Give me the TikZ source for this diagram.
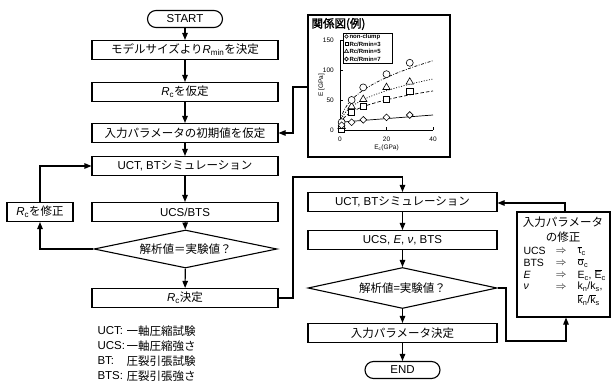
\documentclass[tikz,border=0pt]{standalone}
\usepackage{fontspec}
\setmainfont{Liberation Sans}
\newfontfamily\jp[AutoFakeBold=2]{Noto Sans CJK JP}
\usetikzlibrary{arrows.meta,shapes.geometric}
\newcommand\myRc{\textit{R}\textsubscript{c}}
\newcommand\myRmin{\textit{R}\textsubscript{min}}
\newcommand\obar[1]{$\overline{\mbox{#1}}$}
\begin{document}
\begin{tikzpicture}[x=1pt,y=-1pt,font=\fontsize{11.5}{13}\selectfont,line width=1.1pt,
  box/.style={draw,line width=1.1pt,minimum width=186pt,minimum height=19pt,inner sep=1pt},
  rbox/.style={box,minimum width=189pt},
  term/.style={draw,line width=1.1pt,rounded corners=8.5pt,minimum width=75pt,minimum height=17pt,inner sep=1pt},
  dec/.style={draw,diamond,aspect=4.8,line width=1.1pt,inner sep=0pt,minimum width=183pt,minimum height=38pt},
  arr/.style={-{Triangle[length=7pt,width=5.5pt]},line width=1.1pt},
  mkbase/.style={draw,fill=white,line width=0.6pt,inner sep=0pt},
  mkc/.style={mkbase,circle,minimum size=7pt},
  mks/.style={mkbase,rectangle,minimum size=6.2pt},
  mkt/.style={mkbase,regular polygon,regular polygon sides=3,minimum size=8.5pt},
  mkd/.style={mkbase,diamond,minimum size=7pt},
  tick/.style={font=\fontsize{6.5}{7}\selectfont,inner sep=1pt},
  leg/.style={font=\fontsize{6}{6}\selectfont\bfseries,inner sep=0pt,anchor=west},
  mrow/.style={font=\fontsize{10.5}{12}\selectfont,inner sep=0pt}]
\useasboundingbox (0,0) rectangle (611,385);

% left column
\node[term] (start) at (185,19) {START};
\node[box] (b1) at (185,50) {{\jp モデルサイズより}\myRmin{\jp を決定}};
\node[box] (b2) at (185,92) {\myRc{\jp を仮定}};
\node[box] (b3) at (185,133) {{\jp 入力パラメータの初期値を仮定}};
\node[box] (b4) at (185,166) {UCT, BT{\jp シミュレーション}};
\node[box] (b5) at (185,212) {UCS/BTS};
\node[dec] (d1) at (185.5,249) {{\jp 解析値＝実験値？}};
\node[box] (b6) at (185,298) {\myRc{\jp 決定}};
\node[box,minimum width=66pt] (fix) at (40,212) {\myRc{\jp を修正}};

\draw[arr] (start) -- (b1);
\draw[arr] (b1) -- (b2);
\draw[arr] (b2) -- (b3);
\draw[arr] (b3) -- (b4);
\draw[arr] (b4) -- (b5);
\draw[arr] (b5) -- (d1);
\draw[arr] (d1) -- (b6);
\draw[arr] (d1.west) -| (fix.south);
\draw[arr] (fix.north) |- (b4.west);

% legend of abbreviations
\node[anchor=west,inner sep=0pt] (l1a) at (97,331) {UCT:};
\node[anchor=west,inner sep=0pt] (l1b) at (126,331) {\jp 一軸圧縮試験};
\node[anchor=west,inner sep=0pt] (l2a) at (97,346) {UCS:};
\node[anchor=west,inner sep=0pt] (l2b) at (126,346) {\jp 一軸圧縮強さ};
\node[anchor=west,inner sep=0pt] (l3a) at (97,361) {BT:};
\node[anchor=west,inner sep=0pt] (l3b) at (126,361) {\jp 圧裂引張試験};
\node[anchor=west,inner sep=0pt] (l4a) at (97,376) {BTS:};
\node[anchor=west,inner sep=0pt] (l4b) at (126,376) {\jp 圧裂引張強さ};

% right column
\node[rbox] (r1) at (402.5,202) {UCT, BT{\jp シミュレーション}};
\node[rbox] (r2) at (402.5,240) {UCS, \textit{E}, \textit{ν}, BTS};
\node[dec,aspect=4.6,minimum width=189pt,minimum height=41pt] (d2) at (402.5,288) {{\jp 解析値=実験値？}};
\node[rbox] (r3) at (402.5,333) {{\jp 入力パラメータ決定}};
\node[term] (end) at (402.5,370) {END};

\draw[arr] (r1) -- (r2);
\draw[arr] (r2) -- (d2);
\draw[arr] (d2) -- (r3);
\draw[arr] (r3) -- (end);

\coordinate (c1) at (293,177);
\draw[arr] (b6.east) -| (c1) -| (r1.north);

% modification box
\node[draw,line width=1.1pt,minimum width=93pt,minimum height=105pt,inner sep=0pt] (mod) at (563.5,264.5) {};
\node[inner sep=0pt] (mt1) at (563,222) {\jp 入力パラメータ};
\node[inner sep=0pt] (mt2) at (563,237) {\jp の修正};
\node[mrow,anchor=west] (ma1) at (523,251) {UCS};
\node[mrow,anchor=west] (ma2) at (523,263) {BTS};
\node[mrow,anchor=west] (ma3) at (523,275) {\textit{E}};
\node[mrow,anchor=west] (ma4) at (523,287) {\textit{ν}};
\node[mrow] (mb1) at (561,251) {$\Rightarrow$};
\node[mrow] (mb2) at (561,263) {$\Rightarrow$};
\node[mrow] (mb3) at (561,275) {$\Rightarrow$};
\node[mrow] (mb4) at (561,287) {$\Rightarrow$};
\node[mrow,anchor=west] (mc1) at (577,251) {\obar{τ}\textsubscript{c}};
\node[mrow,anchor=west] (mc2) at (577,263) {\obar{σ}\textsubscript{c}};
\node[mrow,anchor=west] (mc3) at (577,275) {E\textsubscript{c}, \obar{E}\textsubscript{c}};
\node[mrow,anchor=west] (mc4) at (577,287) {k\textsubscript{n}/k\textsubscript{s},};
\node[mrow,anchor=west] (mc5) at (577,300) {\obar{k}\textsubscript{n}/\obar{k}\textsubscript{s}};

\coordinate (c2) at (506,341);
\coordinate (c3) at (566,341);
\draw[arr] (d2.east) -| (c2) -- (c3) -- (c3 |- mod.south);
\coordinate (c4) at (565,203);
\draw[arr] (c4 |- mod.north) -- (c4) -- (c4 -| r1.east);

% graph
\node[draw,line width=1.1pt,minimum width=142pt,minimum height=142pt,inner sep=0pt] (graph) at (379,86) {};
\node[anchor=west,inner sep=0pt,font=\fontsize{11.5}{13}\selectfont\bfseries] (gt) at (311,24) {\jp 関係図(例)};
\coordinate (c5) at (293,87);
\draw[arr] (graph.west |- c5) -- (c5) |- (b3.east);

\begin{scope}[shift={(340,130)},x=2.325pt,y=0.6pt]
  \draw[line width=0.8pt] (0,150) -- (0,0) -- (40,0);
  \foreach \Y in {50,100,150} \draw[line width=0.6pt] (0,\Y) -- ++(1.4,0);
  \foreach \X in {20,40} \draw[line width=0.6pt] (\X,0) -- ++(0,5);
  \foreach \Y [count=\i] in {0,50,100,150} \node[tick,anchor=east] (yl\i) at (-2,\Y) {\Y};
  \foreach \X [count=\i] in {0,20,40} \node[tick] (xl\i) at (\X,-16) {\X};
  \node[tick] (xt) at (20,-30) {E\textsubscript{c}(GPa)};
  \node[tick,rotate=90] (yt) at (-8,75) {E [GPa]};
  % curves
  \draw[line width=0.7pt] plot[domain=0:40,samples=20] (\x,{13+0.3*\x});
  \draw[line width=0.7pt,dash pattern=on 3.5pt off 2pt] plot[domain=0.3:40,samples=60] (\x,{16.5*\x^0.372});
  \draw[line width=0.7pt,dash pattern=on 1pt off 1.6pt] plot[domain=0.3:40,samples=60] (\x,{21.3*\x^0.375});
  \draw[line width=0.7pt,dash pattern=on 3pt off 1.5pt on 0.8pt off 1.5pt] plot[domain=0.3:40,samples=60] (\x,{26.4*\x^0.4});
  % markers
  \foreach \X/\Y [count=\i] in {0.7/2,5/30,10/39,20/51,30/65} \node[mks] (ps\i) at (\X,\Y) {};
  \foreach \X/\Y [count=\i] in {0.7/6,5/39,10/51,20/71,30/80} \node[mkt] (pt\i) at (\X,\Y) {};
  \foreach \X/\Y [count=\i] in {0.7/13,5/50,10/71,20/93,30/112} \node[mkc] (pc\i) at (\X,\Y) {};
  \foreach \X/\Y [count=\i] in {0.7/8,5/13,10/17,20/21,30/25} \node[mkd] (pd\i) at (\X,\Y) {};
\end{scope}

% graph legend
\node[draw,line width=0.6pt,minimum width=49pt,minimum height=30pt,inner sep=0pt] (glegend) at (367.5,48) {};
\node[mkbase,diamond,minimum size=3.8pt] (gk1) at (346.5,36.5) {};
\node[mkbase,rectangle,minimum size=3.4pt] (gk2) at (346.5,44) {};
\node[mkbase,regular polygon,regular polygon sides=3,minimum size=4.6pt] (gk3) at (346.5,51.5) {};
\node[mkbase,circle,minimum size=3.8pt] (gk4) at (346.5,59) {};
\node[leg] (gl1) at (349,36.5) {non-clump};
\node[leg] (gl2) at (349,44) {Rc/Rmin=3};
\node[leg] (gl3) at (349,51.5) {Rc/Rmin=5};
\node[leg] (gl4) at (349,59) {Rc/Rmin=7};
\end{tikzpicture}
\end{document}
